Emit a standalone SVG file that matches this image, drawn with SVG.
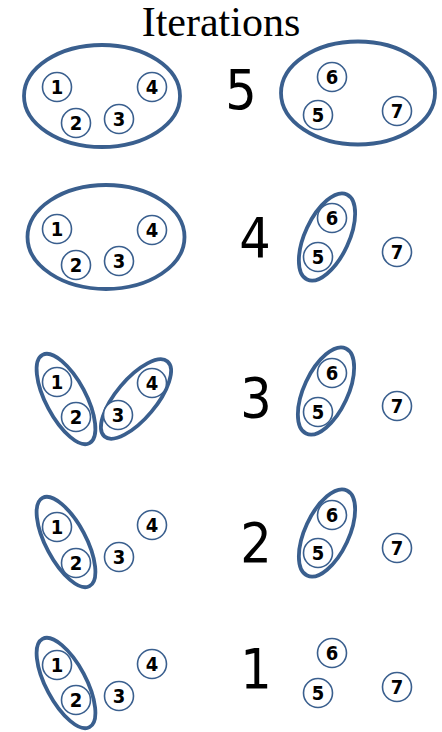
<svg xmlns="http://www.w3.org/2000/svg" width="442" height="732" viewBox="0 0 442 732">
  <style>
    .cluster { fill: none; stroke: #3a5f8e; stroke-width: 3.8; }
    .node circle { fill: #ffffff; stroke: #3a5f8e; stroke-width: 1.6; }
    .node text { font-family: "DejaVu Sans Condensed", "DejaVu Sans", sans-serif; font-weight: bold; font-size: 20px; text-anchor: middle; fill: #000000; }
    .step { font-family: "DejaVu Sans Condensed", "DejaVu Sans", sans-serif; font-size: 55px; text-anchor: middle; fill: #000000; }
    .title { font-family: "Liberation Serif", "Times New Roman", serif; font-size: 42px; text-anchor: middle; fill: #000000; }
  </style>
  <rect width="442" height="732" fill="#ffffff"/>
  <text class="title" x="221" y="36">Iterations</text>

  <!-- Iteration 5 -->
  <g id="iter5">
    <ellipse class="cluster" cx="102" cy="96" rx="78" ry="51"/>
    <ellipse class="cluster" cx="358" cy="93" rx="77" ry="51.5"/>
    <text class="step" x="241" y="109">5</text>
    <g id="n5-1" class="node" transform="translate(57,87)"><circle r="14.5"/><text y="7">1</text></g>
    <g id="n5-2" class="node" transform="translate(76,123)"><circle r="14.5"/><text y="7">2</text></g>
    <g id="n5-3" class="node" transform="translate(119,119)"><circle r="14.5"/><text y="7">3</text></g>
    <g id="n5-4" class="node" transform="translate(152,87)"><circle r="14.5"/><text y="7">4</text></g>
    <g id="n5-6" class="node" transform="translate(332,77)"><circle r="14.5"/><text y="7">6</text></g>
    <g id="n5-5" class="node" transform="translate(318,115)"><circle r="14.5"/><text y="7">5</text></g>
    <g id="n5-7" class="node" transform="translate(397,111)"><circle r="14.5"/><text y="7">7</text></g>
  </g>

  <!-- Iteration 4 -->
  <g id="iter4">
    <ellipse class="cluster" cx="106" cy="237" rx="78.5" ry="52"/>
    <ellipse class="cluster" cx="327" cy="237" rx="47" ry="22" transform="rotate(-65 327 237)"/>
    <text class="step" x="255" y="257">4</text>
    <g id="n4-1" class="node" transform="translate(57,229)"><circle r="14.5"/><text y="7">1</text></g>
    <g id="n4-2" class="node" transform="translate(76,265)"><circle r="14.5"/><text y="7">2</text></g>
    <g id="n4-3" class="node" transform="translate(119,261)"><circle r="14.5"/><text y="7">3</text></g>
    <g id="n4-4" class="node" transform="translate(152,230)"><circle r="14.5"/><text y="7">4</text></g>
    <g id="n4-6" class="node" transform="translate(332,218)"><circle r="14.5"/><text y="7">6</text></g>
    <g id="n4-5" class="node" transform="translate(318,257)"><circle r="14.5"/><text y="7">5</text></g>
    <g id="n4-7" class="node" transform="translate(397,252)"><circle r="14.5"/><text y="7">7</text></g>
  </g>

  <!-- Iteration 3 -->
  <g id="iter3">
    <ellipse class="cluster" cx="66" cy="399" rx="50" ry="20" transform="rotate(62 66 399)"/>
    <ellipse class="cluster" cx="136" cy="399" rx="49" ry="20" transform="rotate(-50 136 399)"/>
    <ellipse class="cluster" cx="326" cy="391" rx="47" ry="22" transform="rotate(-65 326 391)"/>
    <text class="step" x="256" y="417">3</text>
    <g id="n3-1" class="node" transform="translate(57,382)"><circle r="14.5"/><text y="7">1</text></g>
    <g id="n3-2" class="node" transform="translate(76,417)"><circle r="14.5"/><text y="7">2</text></g>
    <g id="n3-3" class="node" transform="translate(118,415)"><circle r="14.5"/><text y="7">3</text></g>
    <g id="n3-4" class="node" transform="translate(152,383)"><circle r="14.5"/><text y="7">4</text></g>
    <g id="n3-6" class="node" transform="translate(332,373)"><circle r="14.5"/><text y="7">6</text></g>
    <g id="n3-5" class="node" transform="translate(318,412)"><circle r="14.5"/><text y="7">5</text></g>
    <g id="n3-7" class="node" transform="translate(397,406)"><circle r="14.5"/><text y="7">7</text></g>
  </g>

  <!-- Iteration 2 -->
  <g id="iter2">
    <ellipse class="cluster" cx="66" cy="542" rx="50" ry="20" transform="rotate(62 66 542)"/>
    <ellipse class="cluster" cx="327" cy="533" rx="47" ry="22" transform="rotate(-65 327 533)"/>
    <text class="step" x="256" y="562">2</text>
    <g id="n2-1" class="node" transform="translate(57,527)"><circle r="14.5"/><text y="7">1</text></g>
    <g id="n2-2" class="node" transform="translate(76,563)"><circle r="14.5"/><text y="7">2</text></g>
    <g id="n2-3" class="node" transform="translate(119,557)"><circle r="14.5"/><text y="7">3</text></g>
    <g id="n2-4" class="node" transform="translate(152,525)"><circle r="14.5"/><text y="7">4</text></g>
    <g id="n2-6" class="node" transform="translate(332,515)"><circle r="14.5"/><text y="7">6</text></g>
    <g id="n2-5" class="node" transform="translate(318,553)"><circle r="14.5"/><text y="7">5</text></g>
    <g id="n2-7" class="node" transform="translate(397,548)"><circle r="14.5"/><text y="7">7</text></g>
  </g>

  <!-- Iteration 1 -->
  <g id="iter1">
    <ellipse class="cluster" cx="66" cy="683" rx="50" ry="20" transform="rotate(62 66 683)"/>
    <text class="step" x="256" y="688">1</text>
    <g id="n1-1" class="node" transform="translate(57,665)"><circle r="14.5"/><text y="7">1</text></g>
    <g id="n1-2" class="node" transform="translate(76,700)"><circle r="14.5"/><text y="7">2</text></g>
    <g id="n1-3" class="node" transform="translate(119,696)"><circle r="14.5"/><text y="7">3</text></g>
    <g id="n1-4" class="node" transform="translate(152,664)"><circle r="14.5"/><text y="7">4</text></g>
    <g id="n1-6" class="node" transform="translate(332,653)"><circle r="14.5"/><text y="7">6</text></g>
    <g id="n1-5" class="node" transform="translate(318,693)"><circle r="14.5"/><text y="7">5</text></g>
    <g id="n1-7" class="node" transform="translate(397,687)"><circle r="14.5"/><text y="7">7</text></g>
  </g>

  <!-- no connectors in this figure -->
  <g id="connectors"/>
</svg>
